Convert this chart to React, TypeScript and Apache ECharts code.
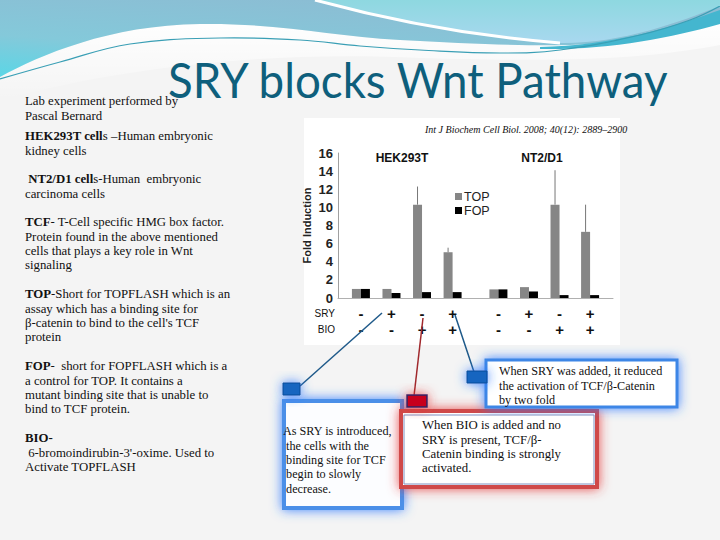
import React, { useEffect, useRef } from 'react';
import * as echarts from 'echarts';

// ---------- data ----------
const cellLines = ['HEK293T', 'NT2/D1'];
const rowNames = ['SRY', 'BIO'];
const sryRow = ['-', '+', '-', '+', '-', '+', '-', '+'];
const bioRow = ['-', '-', '+', '+', '-', '-', '+', '+'];
const seriesNames = ['TOP', 'FOP'];
const topValues = [1.0, 1.0, 10.3, 5.05, 0.95, 1.2, 10.3, 7.3];
const topErrors = [0, 0, 2.0, 0.5, 0, 0, 3.8, 3.0];
const fopValues = [1.0, 0.55, 0.65, 0.65, 0.95, 0.72, 0.32, 0.32];
const yAxisName = 'Fold Induction';
const title = 'SRY blocks Wnt Pathway';
const citation = 'Int J Biochem Cell Biol. 2008; 40(12): 2889\u20132900';

// layout: slots on the category axis (gap between the two cell lines)
const SLOT_COUNT = 18;
const slotOf = [1, 3, 5, 7, 10, 12, 14, 16];

const BODY = '"Liberation Serif", "DejaVu Serif", serif';
const ARIAL = '"Liberation Sans", Arial, sans-serif';
const BODY_SIZE = 12.8;

const dA = 'M0,77 C40,55 110,25 200,24 C280,23 330,36 400,40 C470,44 530,46 570,45 C630,43 680,30 720,20 L720,0 L0,0 Z';
const dB = 'M315,0 C370,15 460,35 560,43 C620,44 680,22 720,6 L720,0 Z';
const dStreak = 'M540,47 C610,46 670,28 720,10 L720,24 C670,38 610,50 540,49 Z';
const dWhite = 'M0,77 C40,55 110,25 200,24 C280,23 330,36 400,40 C470,44 530,46 570,45 C630,43 680,30 720,20 L720,45 C640,60 560,62 420,58 C300,52 150,60 0,100 Z';

let registered = false;
function registerShapes() {
  if (registered) return;
  registered = true;
  echarts.graphic.registerShape('waveA', echarts.graphic.extendPath(dA, {}));
  echarts.graphic.registerShape('waveB', echarts.graphic.extendPath(dB, {}));
  echarts.graphic.registerShape('waveStreak', echarts.graphic.extendPath(dStreak, {}));
  echarts.graphic.registerShape('waveWhite', echarts.graphic.extendPath(dWhite, {}));
}

function txt(x: number, y: number, text: string, extra: any = {}) {
  return {
    type: 'text',
    x,
    y,
    z: 5,
    style: {
      text,
      fontFamily: BODY,
      fontSize: BODY_SIZE,
      lineHeight: 14.4,
      fill: '#111',
      rich: { b: { fontWeight: 'bold', fontFamily: BODY, fontSize: BODY_SIZE, lineHeight: 14.4, fill: '#111' } },
      ...extra,
    },
  };
}

export default function App() {
  const ref = useRef<HTMLDivElement>(null);
  useEffect(() => {
    if (!ref.current) return;
    registerShapes();
    const chart = echarts.init(ref.current, null, { renderer: 'svg' });

    const cats = Array.from({ length: SLOT_COUNT }, (_, i) => 's' + i);
    const topData: any[] = cats.map(() => '-');
    const fopData: any[] = cats.map(() => '-');
    slotOf.forEach((s, i) => {
      topData[s] = topValues[i];
      fopData[s] = fopValues[i];
    });
    const errData = slotOf
      .map((s, i) => [s, topValues[i], topErrors[i]])
      .filter((d) => d[2] > 0);

    const labelFor = (idx: number) => {
      const k = slotOf.indexOf(idx);
      if (k < 0) return '';
      return `{s|${sryRow[k]}}\n{s|${bioRow[k]}}`;
    };

    const glowBlue = { shadowBlur: 12, shadowColor: 'rgba(40,120,255,0.9)' };
    const glowRed = { shadowBlur: 12, shadowColor: 'rgba(230,50,50,0.85)' };

    const graphic: any[] = [
      // decorations
      {
        type: 'waveWhite', x: 0, y: 0, z: 0,
        style: { fill: new echarts.graphic.LinearGradient(0, 0, 0, 1, [
          { offset: 0, color: 'rgba(255,255,255,1)' },
          { offset: 1, color: 'rgba(255,255,255,0)' },
        ]) },
      },
      {
        type: 'waveA', x: 0, y: 0, z: 0,
        style: { fill: new echarts.graphic.LinearGradient(0.6, 0, 0, 1, [
          { offset: 0, color: '#8cbcd3' },
          { offset: 0.6, color: '#84c9da' },
          { offset: 1, color: '#5bd6e6' },
        ]) },
      },
      {
        type: 'waveB', x: 0, y: 0, z: 0,
        style: { fill: new echarts.graphic.LinearGradient(0, 0, 0, 1, [
          { offset: 0, color: '#8ed8e0' },
          { offset: 1, color: '#a8d8ef' },
        ]) },
      },
      { type: 'waveStreak', x: 0, y: 0, z: 0, style: { fill: '#44b6cf' } },
      {
        type: 'bezierCurve', z: 0,
        shape: { x1: 315, y1: 0, cpx1: 370, cpy1: 15, cpx2: 460, cpy2: 35, x2: 560, y2: 43 },
        style: { stroke: '#ffffff', lineWidth: 3, fill: 'none' },
      },
      {
        type: 'polyline', z: 0,
        shape: { points: [[0, 79], [60, 62], [130, 44], [220, 38], [300, 40], [360, 46], [420, 50], [500, 53], [560, 50], [640, 35], [690, 20], [720, 6]], smooth: 0.4 },
        style: { stroke: '#3a9fb5', lineWidth: 1.2, fill: 'none' },
      },
      // chart picture background
      { type: 'rect', z: 0, shape: { x: 304, y: 118, width: 316, height: 227 }, style: { fill: '#ffffff' } },
      // title
      {
        type: 'text', x: 168, y: 104, z: 5, scaleX: 0.952,
        style: { text: title, fontFamily: 'Lato', fontSize: 48, fill: '#0e5f7c', verticalAlign: 'bottom' },
      },
      txt(425, 123, citation, { fontStyle: 'italic', fontSize: 10, lineHeight: 12 }),
      // left text
      txt(25, 94, 'Lab experiment performed by\nPascal Bernard'),
      txt(25, 129, '{b|HEK293T cell}s \u2013Human embryonic\nkidney cells'),
      txt(25, 172, ' {b|NT2/D1 cell}s-Human  embryonic\ncarcinoma cells'),
      txt(25, 215, '{b|TCF}- T-Cell specific HMG box factor.\nProtein found in the above mentioned\ncells that plays a key role in Wnt\nsignaling'),
      txt(25, 287, '{b|TOP}-Short for TOPFLASH which is an\nassay which has a binding site for\n\u03b2-catenin to bind to the cell\'s TCF\nprotein'),
      txt(25, 359, '{b|FOP}-  short for FOPFLASH which is a\na control for TOP. It contains a\nmutant binding site that is unable to\nbind to TCF protein.'),
      txt(25, 431, '{b|BIO-}\n 6-bromoindirubin-3\'-oxime. Used to\nActivate TOPFLASH'),
      // chart side labels
      { type: 'text', x: 402, y: 158, z: 5, style: { text: cellLines[0], fontFamily: ARIAL, fontWeight: 'bold', fontSize: 12, fill: '#111', align: 'center', verticalAlign: 'middle' } },
      { type: 'text', x: 542, y: 158, z: 5, style: { text: cellLines[1], fontFamily: ARIAL, fontWeight: 'bold', fontSize: 12, fill: '#111', align: 'center', verticalAlign: 'middle' } },
      { type: 'text', x: 335, y: 313, z: 5, style: { text: rowNames[0], fontFamily: ARIAL, fontSize: 10, fill: '#111', align: 'right', verticalAlign: 'middle' } },
      { type: 'text', x: 335, y: 329, z: 5, style: { text: rowNames[1], fontFamily: ARIAL, fontSize: 10, fill: '#111', align: 'right', verticalAlign: 'middle' } },
      // connector lines
      { type: 'line', z: 6, shape: { x1: 300, y1: 386, x2: 382, y2: 313 }, style: { stroke: '#1f5a8a', lineWidth: 1.5 } },
      { type: 'line', z: 6, shape: { x1: 414, y1: 396, x2: 423, y2: 318 }, style: { stroke: '#a0282c', lineWidth: 1.5 } },
      { type: 'line', z: 6, shape: { x1: 474, y1: 372, x2: 455, y2: 315 }, style: { stroke: '#1f5a8a', lineWidth: 1.5 } },
      // left blue callout
      { type: 'rect', z: 4, shape: { x: 284, y: 401, width: 118, height: 107 }, style: { fill: '#fcfdff', stroke: '#4b8fe8', lineWidth: 4, ...glowBlue } },
      { type: 'rect', z: 6, shape: { x: 283, y: 383, width: 17, height: 12 }, style: { fill: '#1565c0', stroke: '#0f4f98', lineWidth: 1, ...glowBlue } },
      txt(283, 424, 'As SRY is introduced,\n the cells with the\n binding site for TCF\n begin to slowly\n decrease.', { fontSize: 12.2 }),
      // red callout
      { type: 'rect', z: 4, shape: { x: 401, y: 411, width: 196, height: 76 }, style: { fill: '#ffffff', stroke: '#cf4a4a', lineWidth: 4, ...glowRed } },
      { type: 'rect', z: 5, shape: { x: 404, y: 415, width: 190, height: 69 }, style: { fill: '#ffffff', stroke: '#8090c0', lineWidth: 1 } },
      { type: 'rect', z: 6, shape: { x: 407, y: 395, width: 20, height: 12 }, style: { fill: '#c8001a', stroke: '#2a2a6a', lineWidth: 1.5, ...glowRed } },
      txt(422, 418, 'When BIO is added and no\nSRY is present, TCF/\u03b2-\nCatenin binding is strongly\nactivated.'),
      // right blue callout
      { type: 'rect', z: 4, shape: { x: 486, y: 360, width: 191, height: 47 }, style: { fill: '#ffffff', stroke: '#3d86e6', lineWidth: 3, ...glowBlue } },
      { type: 'rect', z: 6, shape: { x: 467, y: 371, width: 20, height: 12 }, style: { fill: '#1565c0', stroke: '#0f4f98', lineWidth: 1, ...glowBlue } },
      txt(499, 364, 'When SRY was added, it reduced\nthe activation of TCF/\u03b2-Catenin\nby two fold', { fontSize: 12.2 }),
    ];

    chart.setOption({
      animation: false,
      backgroundColor: '#f4f4f4',
      textStyle: { fontFamily: ARIAL },
      grid: { left: 338, top: 153, width: 275, height: 145, containLabel: false },
      legend: {
        data: seriesNames,
        orient: 'vertical',
        left: 455,
        top: 190,
        itemWidth: 7,
        itemHeight: 7,
        itemGap: 1,
        icon: 'rect',
        padding: 0,
        textStyle: { fontSize: 12.5, lineHeight: 12, color: '#222', fontFamily: ARIAL, padding: [0, 0, 0, -3] },
      },
      xAxis: {
        type: 'category',
        data: cats,
        axisLine: { lineStyle: { color: '#b0b0b0', width: 1 } },
        axisTick: { show: false },
        axisLabel: {
          interval: 0,
          margin: 7,
          formatter: (_v: string, idx: number) => labelFor(idx),
          rich: { s: { fontSize: 15, fontWeight: 'bold', fontFamily: ARIAL, lineHeight: 16, color: '#111' } },
        },
      },
      yAxis: {
        type: 'value',
        min: 0,
        max: 16,
        interval: 2,
        name: yAxisName,
        nameLocation: 'middle',
        nameRotate: 90,
        nameGap: 26,
        nameTextStyle: { fontSize: 11, fontWeight: 'bold', color: '#222', fontFamily: ARIAL },
        axisLine: { show: true, lineStyle: { color: '#a0a0a0' } },
        axisTick: { show: false },
        splitLine: { show: false },
        axisLabel: { fontSize: 13, fontWeight: 'bold', color: '#222', margin: 5, fontFamily: ARIAL },
      },
      series: [
        { name: seriesNames[0], type: 'bar', data: topData, barWidth: 9, barGap: '0%', itemStyle: { color: '#868686' } },
        { name: seriesNames[1], type: 'bar', data: fopData, barWidth: 9, barGap: '0%', itemStyle: { color: '#000000' } },
        {
          type: 'custom',
          data: errData,
          encode: { x: 0, y: 1 },
          z: 3,
          renderItem: (_p: any, api: any) => {
            const x = api.value(0);
            const v = api.value(1);
            const e = api.value(2);
            const p0 = api.coord([x, v]);
            const p1 = api.coord([x, v + e]);
            return {
              type: 'line',
              shape: { x1: p0[0] - 4.5, y1: p0[1], x2: p1[0] - 4.5, y2: p1[1] },
              style: { stroke: '#777777', lineWidth: 1 },
            };
          },
        },
      ],
      graphic,
    });
    return () => chart.dispose();
  }, []);
  return <div ref={ref} style={{ position: 'absolute', left: 0, top: 0, width: 720, height: 540 }} />;
}
